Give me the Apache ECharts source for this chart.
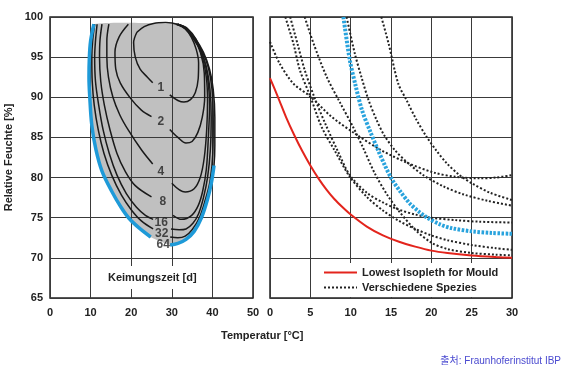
<!DOCTYPE html>
<html>
<head>
<meta charset="utf-8">
<script src="https://cdn.jsdelivr.net/npm/echarts@6/dist/echarts.min.js"></script>
<style>html,body{margin:0;padding:0;background:#fff}</style>
</head>
<body>
<div id="chart-1" style="width:575px;height:377px;"></div>
<script>
// Isoplethen der Keimungszeit [d] (linkes Diagramm), null = Lücke für die Zahl
const iso1 = [[21.4,98.1],[20.6,96.8],[21.0,95.0],[22.2,93.5],[24.0,92.5],[25.3,91.8],null,[29.5,90.3],[31.5,89.6],[33.0,89.4],[34.6,89.7],[35.8,90.6],[36.5,92.3],[36.6,94.3],[36.0,96.0],[34.8,97.5],[33.3,98.5],[31.3,99.1],[28.5,99.3],[25.5,99.2],[23.2,98.8],[21.4,98.1]]
const iso2 = [[19.3,99.1],[17.0,97.5],[16.0,95.6],[16.2,93.5],[17.3,91.8],[19.8,89.9],[22.5,88.4],[25.0,87.6],null,[29.5,86.0],[31.5,85.0],[33.5,84.3],[35.0,84.5],[36.4,85.6],[37.5,87.5],[38.1,90.0],[38.0,93.0],[37.1,95.5],[35.4,97.4],[33.3,98.6],[31.3,99.1]]
const iso4 = [[14.5,99.1],[14.0,97.0],[14.0,95.0],[14.4,92.5],[15.5,90.0],[17.2,87.8],[19.3,85.9],[22.6,83.4],[25.3,81.7],null,[30.0,79.3],[33.3,78.2],[35.5,78.6],[37.0,80.0],[38.0,82.5],[38.6,86.0],[38.8,89.5],[38.5,92.5],[37.5,95.0],[35.8,97.2],[33.5,98.6],[31.5,99.1]]
const iso8 = [[12.8,99.1],[12.3,97.0],[12.2,95.0],[12.5,92.0],[13.4,89.0],[14.8,85.9],[16.5,83.0],[18.5,80.8],[21.0,79.0],[25.0,77.6],null,[30.3,75.3],[32.4,74.8],[34.9,75.3],[36.5,76.5],[37.6,78.3],[38.5,81.0],[39.0,85.0],[39.3,89.0],[38.8,92.5],[37.8,95.0],[36.0,97.2],[33.8,98.6],[31.5,99.1]]
const iso16 = [[11.6,99.1],[11.2,97.0],[11.0,95.0],[11.2,92.0],[12.0,89.0],[13.1,85.9],[14.6,83.0],[16.5,80.3],[18.8,78.0],[21.3,76.3],[23.5,75.3],[25.4,74.8],null,[29.8,73.6],[31.8,73.5],[33.5,73.6],[35.2,74.3],[36.6,75.5],[37.8,77.5],[38.8,80.0],[39.5,83.5],[39.7,87.5],[39.4,91.0],[38.5,93.8],[37.1,95.8],[35.0,97.5],[33.0,98.7],[31.0,99.1]]
const iso32 = [[11.0,99.1],[10.5,97.0],[10.3,95.0],[10.4,92.0],[10.9,89.0],[11.9,85.9],[13.3,83.0],[15.2,80.3],[17.6,77.8],[20.0,76.0],[22.5,74.6],[25.4,73.6],null,[29.6,72.6],[31.5,72.5],[33.3,72.7],[35.0,73.5],[36.8,75.0],[38.3,77.3],[39.4,79.5],[40.1,83.0],[40.2,87.0],[39.9,91.0],[39.0,93.7],[37.5,95.7],[35.5,97.3],[33.3,98.6],[31.3,99.1]]
const iso64 = [[10.8,99.1],[10.0,97.0],[9.7,95.0],[9.6,92.5],[9.8,90.0],[10.3,86.5],[11.3,83.5],[12.8,80.8],[15.2,78.3],[17.5,76.3],[19.5,74.9],[22.0,73.7],[24.8,72.6],null,[29.6,71.6],[31.5,71.8],[33.5,72.3],[35.5,73.3],[37.3,75.0],[38.8,77.3],[39.8,79.5],[40.4,81.5],[40.6,84.0],[40.6,87.5],[40.2,91.0],[39.3,93.5],[37.8,95.6],[35.8,97.3],[33.5,98.6],[31.5,99.1]]
const iso64Blue = iso64.slice(0, 22)

const isoNames = ['1','2','4','8','16','32','64']
const isoLabelX = [27.3, 27.3, 27.3, 27.8, 27.4, 27.5, 27.9]
const isoLabelY = [91.2, 87.0, 80.7, 77.0, 74.4, 73.0, 71.6]

// rechtes Diagramm
const mouldLowest = [[0,92.4],[1,90.0],[2,87.5],[3,85.3],[4,83.3],[5,81.5],[6,79.9],[7,78.5],[8,77.3],[9,76.3],[10,75.4],[12,73.9],[14,72.8],[16,72.0],[18,71.4],[20,70.9],[22,70.6],[25,70.3],[28,70.1],[30,70.0]]
const speciesBlue = [[9.1,100],[9.9,94.6],[10.6,91.5],[11.4,88.4],[12.4,85.8],[13.4,83.4],[14.2,81.6],[15.1,79.8],[16.2,78.2],[17.3,76.8],[18.4,75.8],[19.5,75.0],[21,74.2],[22.5,73.7],[25,73.3],[27.5,73.1],[30,73.0]]
const species1 = [[0,96.9],[1.2,94.2],[2.9,91.7],[5,90.1],[7.6,87.6],[10.5,85.5],[13.8,83.4],[17.1,81.8],[20.4,80.6],[23,80.1],[26,79.9],[28,80.0],[30,80.3]]
const species2 = [[1.9,100],[2.9,96.7],[3.7,93.4],[5,90.1],[6.4,86.3],[8,83.4],[9.9,80.1],[12,77.6],[14,75.9],[16,74.6],[18,73.6],[20,72.8],[22,72.2],[25,71.6],[28,71.2],[30,71.0]]
const species3 = [[2.5,100],[3.4,96.7],[4.3,93.4],[5.5,90.0],[6.9,86.6],[8.4,83.3],[9.9,80.3],[12,78.1],[14,76.9],[16,76.0],[18,75.4],[20,75.0],[23,74.7],[26,74.5],[30,74.4]]
const species4 = [[4.3,100],[5.4,96.7],[7,92.6],[8.7,89.3],[10.3,86.3],[11.5,83.8],[13,80.5],[14.5,77.9],[16,75.8],[18,73.5],[20,71.9],[22,71.1],[25,70.6],[28,70.4],[30,70.3]]
const species5 = [[9.5,100],[10.5,95.5],[11.4,92.3],[12.2,89.7],[13.2,87.2],[14.2,85.2],[15.5,83.4],[17,81.9],[19,80.3],[21.5,78.9],[24,77.9],[27,77.1],[30,76.5]]
const species6 = [[13.8,100],[14.7,96.7],[15.9,91.7],[16.9,89.7],[18.1,87.3],[19.4,85.1],[20.6,83.4],[21.9,81.8],[23.5,80.3],[25,79.3],[27.3,78.1],[30,77.2]]

const FONT = '"Liberation Sans", Arial, sans-serif'

function withGaps(arr) {
    return arr.map(p => p ? p : ['-', '-'])
}

function contour(data) {
    return {
        type: 'line', xAxisIndex: 0, yAxisIndex: 0,
        data: withGaps(data), symbol: 'none', smooth: 0.35, z: 3,
        lineStyle: {color: '#1a1a1a', width: 1.5}
    }
}

function species(data) {
    return {
        name: 'Verschiedene Spezies',
        type: 'line', xAxisIndex: 1, yAxisIndex: 1,
        data: data, symbol: 'none', smooth: 0.3, z: 3,
        lineStyle: {color: '#222', width: 2, type: [2, 2]},
        itemStyle: {color: '#222'}
    }
}

function drawChart() {
    let chartDom = document.getElementById('chart-1');
    let myChart = echarts.init(chartDom);
    let option;

    let axisLabel = {fontSize: 11, fontWeight: 'bold', color: '#222', fontFamily: FONT}
    let splitLine = {show: true, lineStyle: {color: '#3a3a3a', width: 1}}

    option = {
        animation: false,
        backgroundColor: '#fff',
        textStyle: {fontFamily: FONT},
        grid: [
            {left: 50, top: 17, width: 203, height: 281, show: true, borderColor: '#222', borderWidth: 1.5},
            {left: 270, top: 17, width: 242, height: 281, show: true, borderColor: '#222', borderWidth: 1.5}
        ],
        xAxis: [
            {gridIndex: 0, type: 'value', min: 0, max: 50, interval: 10,
                axisLine: {show: false}, axisTick: {show: false}, axisLabel: Object.assign({margin: 9}, axisLabel), splitLine: splitLine},
            {gridIndex: 1, type: 'value', min: 0, max: 30, interval: 5,
                axisLine: {show: false}, axisTick: {show: false}, axisLabel: Object.assign({margin: 9}, axisLabel), splitLine: splitLine}
        ],
        yAxis: [
            {gridIndex: 0, type: 'value', min: 65, max: 100, interval: 5,
                name: 'Relative Feuchte [%]', nameLocation: 'middle', nameGap: 36,
                nameTextStyle: {fontSize: 11, fontWeight: 'bold', color: '#222', fontFamily: FONT},
                axisLine: {show: false}, axisTick: {show: false}, axisLabel: Object.assign({margin: 7}, axisLabel), splitLine: splitLine},
            {gridIndex: 1, type: 'value', min: 65, max: 100, interval: 5,
                axisLine: {show: false}, axisTick: {show: false}, axisLabel: {show: false}, splitLine: splitLine}
        ],
        legend: {
            data: ['Lowest Isopleth for Mould', 'Verschiedene Spezies'],
            orient: 'vertical', left: 320, top: 263,
            itemWidth: 33, itemHeight: 10, itemGap: 4,
            backgroundColor: '#fff', padding: [4, 8, 4, 3],
            itemStyle: {color: 'transparent', borderColor: 'transparent', borderWidth: 0, opacity: 0},
            textStyle: {fontSize: 11, fontWeight: 'bold', color: '#222', fontFamily: FONT}
        },
        graphic: [
            {type: 'text', left: 100, top: 266, z: 10,
                style: {text: 'Keimungszeit [d]', font: 'bold 11px ' + FONT, fill: '#222',
                    backgroundColor: '#fff', padding: [6, 8]}},
            {type: 'text', left: 221, top: 330,
                style: {text: 'Temperatur [°C]', font: 'bold 11px ' + FONT, fill: '#222'}},
            {type: 'text', right: 14, top: 356,
                style: {text: '출처: Fraunhoferinstitut IBP', font: '10px "Liberation Sans", "Noto Sans CJK KR", sans-serif', fill: '#4a4ad0'}}
        ],
        series: [
            {
                type: 'custom', xAxisIndex: 0, yAxisIndex: 0, z: -1, silent: true,
                data: [0],
                renderItem: function (params, api) {
                    return {
                        type: 'polygon',
                        shape: {points: iso64.filter(p => p).map(p => api.coord(p)), smooth: 0.2},
                        style: {fill: '#c0c0c0'}
                    }
                }
            },
            contour(iso1), contour(iso2), contour(iso4), contour(iso8),
            contour(iso16), contour(iso32), contour(iso64),
            {
                type: 'line', xAxisIndex: 0, yAxisIndex: 0,
                data: withGaps(iso64Blue), symbol: 'none', smooth: 0.35, z: 4,
                lineStyle: {color: '#1e9ad8', width: 3.5}
            },
            {
                type: 'scatter', xAxisIndex: 0, yAxisIndex: 0, z: 5, symbolSize: 0,
                data: isoNames.map((n, i) => [isoLabelX[i], isoLabelY[i], n]),
                label: {show: true, position: 'inside', formatter: p => p.data[2],
                    fontSize: 12, fontWeight: 'bold', color: '#222', fontFamily: FONT}
            },
            species(species1), species(species2), species(species3),
            species(species4), species(species5), species(species6),
            {
                type: 'line', xAxisIndex: 1, yAxisIndex: 1,
                data: speciesBlue, symbol: 'none', smooth: 0.3, z: 4,
                lineStyle: {color: '#29a3dd', width: 4, type: [2.5, 1.5]}
            },
            {
                name: 'Lowest Isopleth for Mould',
                type: 'line', xAxisIndex: 1, yAxisIndex: 1,
                data: mouldLowest, symbol: 'none', smooth: 0.3, z: 5,
                lineStyle: {color: '#e3241c', width: 2},
                itemStyle: {color: '#e3241c'}
            }
        ]
    };

    option && myChart.setOption(option);
}

drawChart()
</script>
</body>
</html>
